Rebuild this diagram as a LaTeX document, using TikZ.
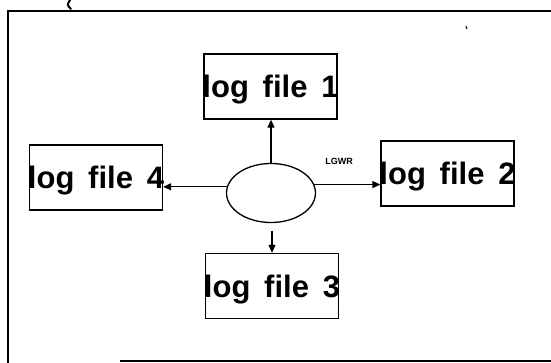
\documentclass[tikz,border=0pt]{standalone}
\usepackage{fontspec}
\setmainfont{Liberation Sans}
\usetikzlibrary{shapes.geometric,arrows.meta}
\tikzset{
  logbox/.style={draw, line width=1.3pt, minimum width=133pt, minimum height=65pt, inner sep=0pt},
  logtext/.style={anchor=base, inner sep=0pt, font=\fontsize{31}{31}\selectfont\bfseries},
  buffer/.style={draw, ellipse, line width=1.3pt, minimum width=89pt, minimum height=59pt, inner sep=0pt},
  arr/.style={line width=1.2pt, -{Triangle[length=8pt,width=7pt]}},
  frame/.style={line width=1.6pt},
  tag/.style={font=\fontsize{9}{9}\selectfont\bfseries, inner sep=0pt}
}
\begin{document}
\begin{tikzpicture}[x=1pt,y=-1pt]
  \useasboundingbox (0,0) rectangle (551,363);

  % outer frame
  \coordinate (tr) at (551,11);
  \coordinate (tl) at (8,11);
  \coordinate (bl) at (8,363);
  \coordinate (b1) at (120,361);
  \coordinate (b2) at (551,361);
  \draw[frame] (tr) -- (tl) -- (bl);
  \draw[frame] (b1) -- (b2);
  \coordinate (m1) at (70,0);
  \coordinate (m2) at (71,9);
  \draw[line width=2pt, line cap=round] (m1) .. controls (67,5) .. (m2);
  \coordinate (s1) at (466,26);
  \coordinate (s2) at (467,29);
  \draw[line width=1pt] (s1) -- (s2);

  % log files
  \node[logbox] (f1) at (270.5,86.5) {};
  \node[logbox] (f2) at (447.5,173.5) {};
  \node[logbox] (f3) at (272,286) {};
  \node[logbox] (f4) at (96,177.5) {};
  \node[logtext] (t1) at ([yshift=-11pt]f1.center) {log\, file\, 1};
  \node[logtext] (t2) at ([yshift=-11pt]f2.center) {log\, file\, 2};
  \node[logtext] (t3) at ([yshift=-11pt]f3.center) {log\, file\, 3};
  \node[logtext] (t4) at ([yshift=-11pt]f4.center) {log\, file\, 4};

  % log buffer
  \node[buffer] (e) at (271,193) {};
  \node[tag] (lgwr) at (339,161) {LGWR};

  % writes
  \draw[arr] (e.north) -- (e.north |- f1.south);
  \draw[arr] (e.11) -- (e.11 -| f2.west);
  \draw[arr] (e.172) -- (e.172 -| f4.east);
  \coordinate (d) at (272,231);
  \draw[arr] (d) -- (f3.north);
\end{tikzpicture}
\end{document}
